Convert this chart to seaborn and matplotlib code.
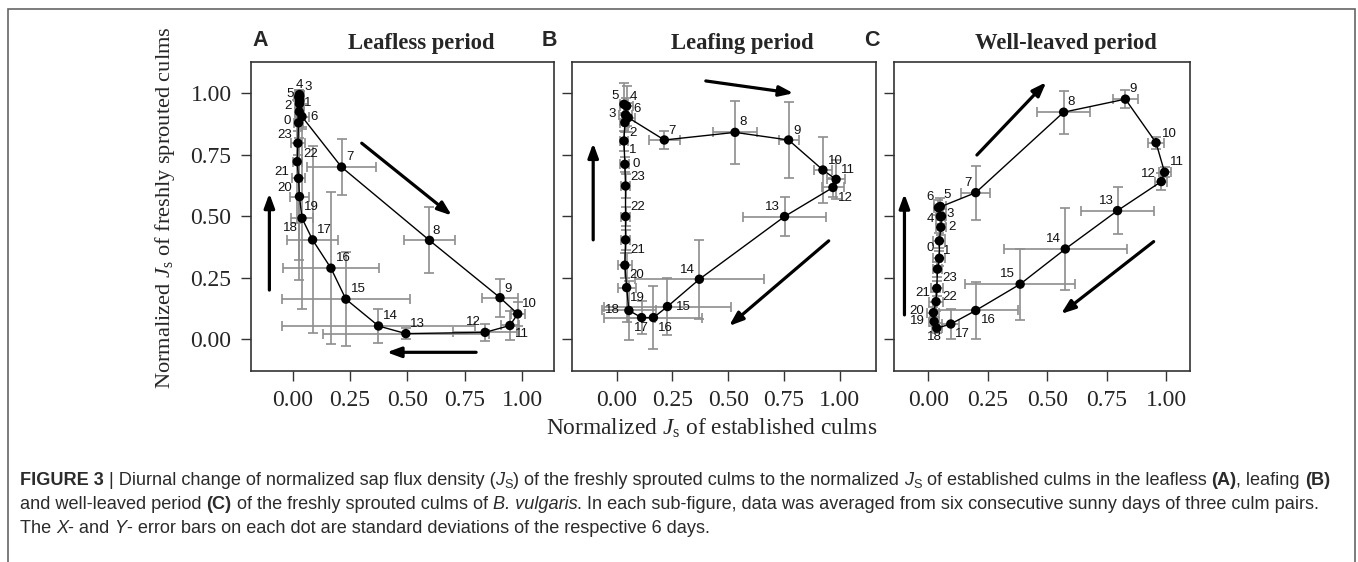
"""
Diurnal hysteresis of normalized sap flux density (freshly sprouted vs established culms).
Three panels: leafless, leafing and well-leaved period.
"""

import numpy as np
import pandas as pd
import seaborn as sns
import matplotlib
matplotlib.use("Agg")
import matplotlib.pyplot as plt
from matplotlib.transforms import IdentityTransform
from matplotlib.patches import Rectangle

sns.set_style("ticks")
plt.rcParams['font.family'] = ['Liberation Serif', 'DejaVu Serif']
plt.rcParams['mathtext.fontset'] = 'custom'
plt.rcParams['mathtext.rm'] = 'Liberation Serif'
plt.rcParams['mathtext.it'] = 'Liberation Serif:italic'

# ---------------------------------------------------------------- data
HOURS = list(range(24))

# (A) leafless period: hour 0..23
LEAFLESS_X = [0.029, 0.031, 0.030, 0.031, 0.030, 0.027, 0.041, 0.213, 0.596, 0.903,
              0.980, 0.946, 0.838, 0.493, 0.374, 0.232, 0.167, 0.087, 0.041, 0.030,
              0.026, 0.020, 0.023, 0.026]
LEAFLESS_Y = [0.925, 0.970, 0.957, 0.989, 0.995, 0.985, 0.905, 0.700, 0.402, 0.169,
              0.103, 0.056, 0.028, 0.023, 0.054, 0.163, 0.289, 0.404, 0.492, 0.580,
              0.654, 0.722, 0.797, 0.880]
LEAFLESS_XERR = [0.02, 0.02, 0.02, 0.02, 0.015, 0.02, 0.03, 0.15, 0.109, 0.08,
                 0.03, 0.04, 0.14, 0.36, 0.42, 0.28, 0.21, 0.11, 0.05, 0.04,
                 0.03, 0.02, 0.03, 0.02]
LEAFLESS_YERR = [0.06, 0.04, 0.04, 0.02, 0.02, 0.03, 0.05, 0.115, 0.134, 0.077,
                 0.05, 0.06, 0.035, 0.023, 0.07, 0.19, 0.31, 0.38, 0.37, 0.34,
                 0.33, 0.25, 0.05, 0.06]

# (B) leafing period
LEAFING_X = [0.037, 0.033, 0.037, 0.040, 0.045, 0.033, 0.052, 0.214, 0.531, 0.771,
             0.925, 0.984, 0.970, 0.753, 0.371, 0.228, 0.165, 0.112, 0.055, 0.045,
             0.037, 0.040, 0.040, 0.040]
LEAFING_Y = [0.711, 0.806, 0.881, 0.912, 0.948, 0.955, 0.901, 0.810, 0.841, 0.810,
             0.688, 0.650, 0.617, 0.499, 0.244, 0.133, 0.088, 0.088, 0.117, 0.210,
             0.301, 0.404, 0.499, 0.623]
LEAFING_XERR = [0.02, 0.02, 0.02, 0.03, 0.03, 0.02, 0.03, 0.071, 0.097, 0.045,
                0.04, 0.04, 0.05, 0.188, 0.288, 0.284, 0.22, 0.06, 0.12, 0.04,
                0.03, 0.02, 0.02, 0.02]
LEAFING_YERR = [0.03, 0.04, 0.04, 0.07, 0.08, 0.085, 0.06, 0.037, 0.129, 0.154,
                0.133, 0.078, 0.04, 0.079, 0.16, 0.116, 0.129, 0.066, 0.12, 0.14,
                0.05, 0.04, 0.04, 0.05]

# (C) well-leaved period
WELL_X = [0.046, 0.046, 0.052, 0.055, 0.050, 0.050, 0.042, 0.199, 0.569, 0.829,
          0.958, 0.994, 0.980, 0.796, 0.576, 0.386, 0.199, 0.094, 0.035, 0.024,
          0.021, 0.032, 0.035, 0.038]
WELL_Y = [0.329, 0.400, 0.455, 0.500, 0.499, 0.540, 0.535, 0.596, 0.923, 0.976,
          0.799, 0.679, 0.641, 0.523, 0.367, 0.224, 0.117, 0.062, 0.045, 0.072,
          0.108, 0.153, 0.207, 0.285]
WELL_XERR = [0.025, 0.025, 0.02, 0.02, 0.02, 0.025, 0.02, 0.06, 0.112, 0.054,
             0.035, 0.025, 0.025, 0.155, 0.258, 0.232, 0.18, 0.035, 0.02, 0.02,
             0.025, 0.03, 0.025, 0.02]
WELL_YERR = [0.03, 0.03, 0.03, 0.03, 0.03, 0.035, 0.03, 0.11, 0.087, 0.037,
             0.025, 0.02, 0.035, 0.095, 0.165, 0.144, 0.115, 0.06, 0.02, 0.02,
             0.025, 0.04, 0.03, 0.03]

TICKS = [0.0, 0.25, 0.5, 0.75, 1.0]
TICK_LABELS = ["0.00", "0.25", "0.50", "0.75", "1.00"]

# ---------------------------------------------------------------- styling
W, H = 1358, 562

# hour-label offsets in pixels (dx right, dy up)
OFFSETS_A = [(-12, -9), (8, -2), (-11, -2), (8, 9), (0, 9), (-9, 3), (12, 0), (8, 10),
             (7, 9), (8, 9), (12, 10), (12, -9), (-12, 10), (12, 10), (12, 10), (13, 10),
             (12, 10), (12, 10), (-12, -10), (12, -10), (-14, -10), (-15, -10),
             (13, -11), (-14, -12)]
OFFSETS_B = [(11, 0), (9, -9), (8, -10), (-13, 1), (7, 9), (-9, 8), (9, 9), (8, 9),
             (8, 10), (8, 9), (12, 9), (12, 9), (12, -11), (-12, 9), (-12, 9), (16, 0),
             (12, -10), (0, -10), (-16, 0), (11, -10), (12, -10), (12, -10), (12, 9),
             (12, 9)]
OFFSETS_C = [(-9, 10), (7, -10), (11, 0), (9, 2), (-10, -3), (7, 11), (-8, 11), (-8, 10),
             (7, 10), (8, 10), (13, 9), (12, 10), (-13, 8), (-11, 10), (-12, 10),
             (-13, 10), (13, -10), (12, -10), (-2, -9), (-17, 1), (-17, 2), (-13, 9),
             (13, -9), (12, -9)]

PANELS = [
    dict(letter="A", title="Leafless period", x=LEAFLESS_X, y=LEAFLESS_Y,
         xerr=LEAFLESS_XERR, yerr=LEAFLESS_YERR, offsets=OFFSETS_A,
         box=(251, 554), xlim=(-0.181, 1.138), letter_x=260, title_x=421,
         arrows=[((0.301, 0.797), (0.693, 0.503)), ((0.799, -0.053), (0.41, -0.053)),
                 ((-0.101, 0.20), (-0.101, 0.593))]),
    dict(letter="B", title="Leafing period", x=LEAFING_X, y=LEAFING_Y,
         xerr=LEAFING_XERR, yerr=LEAFING_YERR, offsets=OFFSETS_B,
         box=(572, 876), xlim=(-0.20, 1.163), letter_x=549, title_x=742,
         arrows=[((0.40, 1.05), (0.793, 1.0)), ((-0.105, 0.404), (-0.105, 0.797)),
                 ((0.951, 0.40), (0.504, 0.054))]),
    dict(letter="C", title="Well-leaved period", x=WELL_X, y=WELL_Y,
         xerr=WELL_XERR, yerr=WELL_YERR, offsets=OFFSETS_C,
         box=(894, 1190), xlim=(-0.145, 1.101), letter_x=872, title_x=1066,
         arrows=[((0.204, 0.749), (0.496, 1.045)), ((-0.101, 0.099), (-0.101, 0.591)),
                 ((0.948, 0.397), (0.558, 0.103))]),
]

AX_TOP, AX_BOTTOM = 62, 371
YLIM = (-0.129, 1.127)
EDGE = "#333333"
BAR_GREY = "#8e8e8e"

fig = plt.figure(figsize=(W / 100, H / 100), dpi=100)
fig.patch.set_facecolor("white")
px = IdentityTransform()

for p in PANELS:
    l, r = p["box"]
    ax = fig.add_axes([l / W, 1 - AX_BOTTOM / H, (r - l) / W, (AX_BOTTOM - AX_TOP) / H])
    df = pd.DataFrame({"hour": HOURS, "x": p["x"], "y": p["y"],
                       "xerr": p["xerr"], "yerr": p["yerr"]})
    loop = pd.concat([df, df.iloc[[0]]], ignore_index=True)

    ax.errorbar(df["x"], df["y"], xerr=df["xerr"], yerr=df["yerr"], fmt="none",
                ecolor=BAR_GREY, elinewidth=1.2, capsize=3.5, capthick=1.2, zorder=1)
    sns.lineplot(data=loop, x="x", y="y", sort=False, estimator=None,
                 color="black", lw=1.0, ax=ax, zorder=2)
    sns.scatterplot(data=df, x="x", y="y", color="black", s=46, edgecolor="none",
                    ax=ax, zorder=3)

    for (xi, yi, h, (dx, dy)) in zip(df["x"], df["y"], df["hour"], p["offsets"]):
        ax.annotate(str(h), (xi, yi), xytext=(dx * 0.72, dy * 0.72),
                    textcoords="offset points", ha="center", va="center",
                    fontsize=9.5, family="Liberation Sans", color="#111111", zorder=4)

    for start, end in p["arrows"]:
        ax.annotate("", xy=end, xytext=start, annotation_clip=False,
                    arrowprops=dict(arrowstyle="-|>,head_length=0.6,head_width=0.22",
                                    lw=2.3, color="black", shrinkA=0, shrinkB=0,
                                    mutation_scale=14))

    ax.set_xlim(*p["xlim"])
    ax.set_ylim(*YLIM)
    ax.set_xticks(TICKS)
    ax.set_xticklabels(TICK_LABELS)
    ax.set_yticks(TICKS)
    if p["letter"] == "A":
        ax.set_yticklabels(TICK_LABELS)
    else:
        ax.set_yticklabels([])
    ax.set_xlabel("")
    ax.set_ylabel("")
    ax.tick_params(direction="out", length=7, width=1.0, color=EDGE,
                   labelsize=17, pad=7)
    for s in ax.spines.values():
        s.set_visible(True)
        s.set_color(EDGE)
        s.set_linewidth(1.2)

    fig.text(p["letter_x"], H - 40, p["letter"], transform=px, ha="center", va="center",
             fontsize=15.5, fontweight="bold", family="Liberation Sans")
    fig.text(p["title_x"], H - 44, p["title"], transform=px, ha="center", va="center",
             fontsize=16.3, fontweight="bold")

fig.text(165, H - 208, r"Normalized $J_{\mathrm{s}}$ of freshly sprouted culms",
         transform=px, rotation=90, ha="center", va="center", fontsize=16.1)
fig.text(712, H - 428, r"Normalized $J_{\mathrm{s}}$ of established culms",
         transform=px, ha="center", va="center", fontsize=16.8)

# outer frame of the figure
fig.add_artist(Rectangle((8 / W, -0.05), (1355 - 8) / W, 1.05 - 9 / H,
                         transform=fig.transFigure, fill=False, edgecolor="#666666",
                         lw=1.2))

# ---------------------------------------------------------------- caption
CAPTION = [
    [("FIGURE 3", "b"), (" | Diurnal change of normalized sap flux density (", ""),
     ("J", "i"), ("S", "s"), (") of the freshly sprouted culms to the normalized ", ""),
     ("J", "i"), ("S", "s"), (" of established culms in the leafless ", ""), ("(A)", "b"),
     (", leafing ", ""), ("(B)", "b")],
    [("and well-leaved period ", ""), ("(C)", "b"),
     (" of the freshly sprouted culms of ", ""), ("B. vulgaris", "i"),
     (". In each sub-figure, data was averaged from six consecutive sunny days of three culm pairs.", "")],
    [("The ", ""), ("X", "i"), ("- and ", ""), ("Y", "i"),
     ("- error bars on each dot are standard deviations of the respective 6 days.", "")],
]
CAPTION_BASELINES = [485, 509, 533]

renderer = fig.canvas.get_renderer()


def run_kw(style, size):
    kw = dict(fontsize=size, family="Liberation Sans", color="#2b2b2b")
    if "b" in style:
        kw["fontweight"] = "bold"
    if "i" in style:
        kw["fontstyle"] = "italic"
    if "s" in style:
        kw["fontsize"] = size * 0.7
    return kw


def advance(text, kw):
    t = fig.text(0, 0, text + "l", transform=px, **kw)
    w1 = t.get_window_extent(renderer).width
    t.remove()
    t = fig.text(0, 0, "l", transform=px, **kw)
    w2 = t.get_window_extent(renderer).width
    t.remove()
    return w1 - w2


def line_width(runs, size):
    return sum(advance(txt, run_kw(st, size)) for txt, st in runs)


cap_size = 10 * (1318 / line_width(CAPTION[0], 10))

for runs, base in zip(CAPTION, CAPTION_BASELINES):
    x = 20
    for txt, st in runs:
        kw = run_kw(st, cap_size)
        dy = -3 if "s" in st else 0
        fig.text(x, H - base + dy, txt, transform=px, ha="left", va="baseline", **kw)
        x += advance(txt, kw)

fig.savefig("out.png", dpi=100)
plt.close(fig)
